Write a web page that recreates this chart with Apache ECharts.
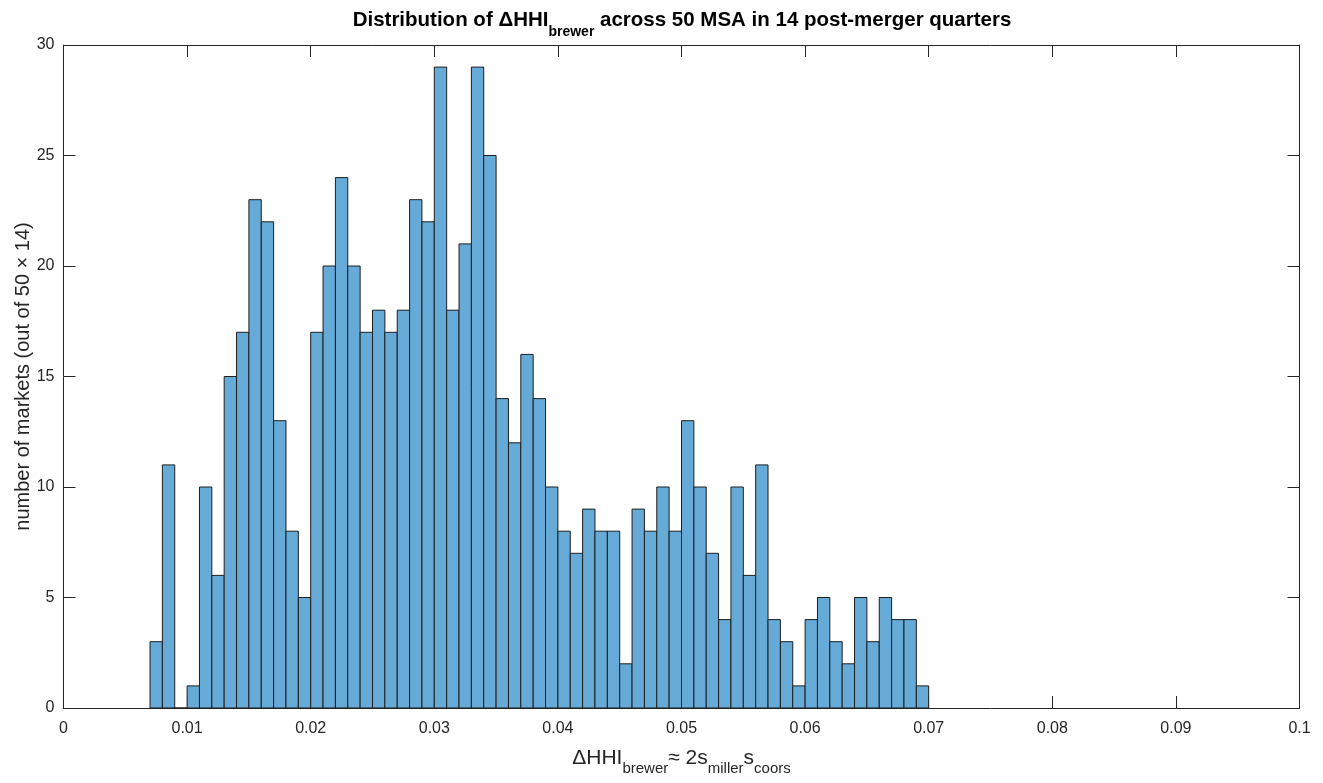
<!DOCTYPE html>
<html>
<head>
<meta charset="utf-8">
<script src="https://cdn.jsdelivr.net/npm/echarts@6/dist/echarts.min.js"></script>
<style>
html,body{margin:0;padding:0;background:#fff;}
#chart{width:1323px;height:783px;}
</style>
</head>
<body>
<div id="chart"></div>
<script>
// Histogram bins (left edges) and counts
var binLeftEdges = [0.007,0.008,0.009,0.010,0.011,0.012,0.013,0.014,0.015,0.016,0.017,0.018,0.019,
  0.020,0.021,0.022,0.023,0.024,0.025,0.026,0.027,0.028,0.029,
  0.030,0.031,0.032,0.033,0.034,0.035,0.036,0.037,0.038,0.039,
  0.040,0.041,0.042,0.043,0.044,0.045,0.046,0.047,0.048,0.049,
  0.050,0.051,0.052,0.053,0.054,0.055,0.056,0.057,0.058,0.059,
  0.060,0.061,0.062,0.063,0.064,0.065,0.066,0.067,0.068,0.069];
var binWidth = 0.001;
var counts = [3,11,0,1,10,6,15,17,23,22,13,8,5,
  17,20,24,20,17,18,17,18,23,22,
  29,18,21,29,25,14,12,16,14,10,
  8,7,9,8,8,2,9,8,10,8,
  13,10,7,4,10,6,11,4,3,1,
  4,5,3,2,5,3,5,4,4,1];
var xTickLabels = ['0','0.01','0.02','0.03','0.04','0.05','0.06','0.07','0.08','0.09','0.1'];
var yTickLabels = ['0','5','10','15','20','25','30'];

var textColor = '#262626';
var FONT = 'Liberation Sans, Arial, sans-serif';
var data = binLeftEdges.map(function(x, i){ return [x, x + binWidth, counts[i]]; });

var chart = echarts.init(document.getElementById('chart'), null, {renderer:'canvas'});

function axisCommon(){
  return {
    axisLine:{show:true, onZero:false, lineStyle:{color:textColor, width:1}},
    axisTick:{show:true, inside:true, length:12, lineStyle:{color:textColor, width:1}},
    splitLine:{show:false},
    nameMoveOverlap:false
  };
}

var xBottom = Object.assign(axisCommon(), {
  type:'value', min:0, max:0.1, interval:0.01, position:'bottom',
  axisLabel:{show:true, color:textColor, fontSize:16, fontFamily:FONT, margin:13,
    formatter:function(v){ var i = Math.round(v/0.01); return xTickLabels[i]; }},
  name:'{a|ΔHHI}{s|brewer}{a|≈ 2s}{s|miller}{a|s}{s|coors}',
  nameLocation:'middle', nameGap:39,
  nameTextStyle:{color:textColor, fontFamily:FONT,
    rich:{
      a:{fontSize:21, lineHeight:22, color:textColor, fontFamily:FONT},
      s:{fontSize:15, lineHeight:15, padding:[22,0,0,0], color:textColor, fontFamily:FONT}
    }}
});
var xTop = Object.assign(axisCommon(), {
  type:'value', min:0, max:0.1, interval:0.01, position:'top',
  axisLabel:{show:false}
});
var yLeft = Object.assign(axisCommon(), {
  type:'value', min:0, max:30, interval:5, position:'left',
  axisLabel:{show:true, color:textColor, fontSize:16, fontFamily:FONT, margin:9,
    formatter:function(v){ return yTickLabels[Math.round(v/5)]; }},
  name:'number of markets (out of 50 × 14)',
  nameLocation:'middle', nameGap:30,
  nameTextStyle:{color:textColor, fontSize:20, fontFamily:FONT}
});
var yRight = Object.assign(axisCommon(), {
  type:'value', min:0, max:30, interval:5, position:'right',
  axisLabel:{show:false}
});

chart.setOption({
  animation:false,
  backgroundColor:'#ffffff',
  title:{
    text:'{a|Distribution of ΔHHI}{s|brewer}{a| across 50 MSA in 14 post-merger quarters}',
    left:677, textAlign:'center', top:4,
    textStyle:{
      rich:{
        a:{fontSize:20.5, fontWeight:'bold', lineHeight:22, color:'#000', fontFamily:FONT},
        s:{fontSize:14, fontWeight:'bold', lineHeight:14, padding:[24,0,0,0], color:'#000', fontFamily:FONT}
      }
    }
  },
  grid:{left:63.5, right:23.5, top:45, bottom:75, containLabel:false, outerBoundsMode:'none'},
  xAxis:[xBottom, xTop],
  yAxis:[yLeft, yRight],
  series:[{
    type:'custom',
    xAxisIndex:0, yAxisIndex:0,
    encode:{x:[0,1], y:2},
    data:data,
    renderItem:function(params, api){
      var p0 = api.coord([api.value(0), 0]);
      var p1 = api.coord([api.value(1), api.value(2)]);
      return {
        type:'rect',
        shape:{x:p0[0], y:p1[1], width:p1[0]-p0[0], height:p0[1]-p1[1]},
        style:{fill:'#66aad7', stroke:'#1e1e1e', lineWidth:1}
      };
    }
  }]
});
</script>
</body>
</html>
